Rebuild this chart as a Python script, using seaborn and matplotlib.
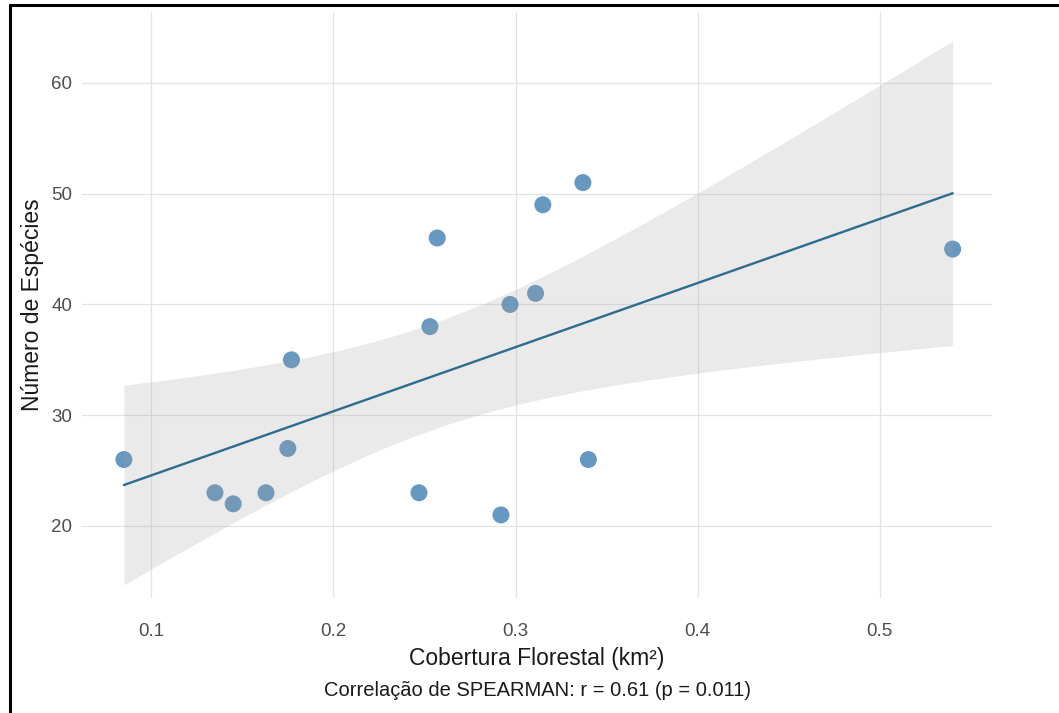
import numpy as np
import pandas as pd
import matplotlib
matplotlib.use("Agg")
import matplotlib.pyplot as plt
from matplotlib.lines import Line2D
import seaborn as sns

# ---- data ----
cobertura = [0.085, 0.135, 0.145, 0.163, 0.175, 0.177, 0.247, 0.253,
             0.257, 0.292, 0.297, 0.311, 0.315, 0.337, 0.340, 0.540]
especies = [26, 23, 22, 23, 27, 35, 23, 38,
            46, 21, 40, 41, 49, 51, 26, 45]
x_ticks = [0.1, 0.2, 0.3, 0.4, 0.5]
y_ticks = [20, 30, 40, 50, 60]
x_label = "Cobertura Florestal (km²)"
y_label = "Número de Espécies"
caption = "Correlação de SPEARMAN: r = 0.61 (p = 0.011)"

df = pd.DataFrame({"cobertura": cobertura, "especies": especies})

sns.set_theme(style="whitegrid")
plt.rcParams["font.family"] = ["Liberation Sans", "DejaVu Sans"]

W, H = 1059, 713
fig = plt.figure(figsize=(W / 100, H / 100), dpi=100)
ax = fig.add_axes([82 / W, 1 - 598 / H, (992 - 82) / W, (598 - 12) / H])

# points first (drawn under the confidence band, like ggplot)
sns.scatterplot(data=df, x="cobertura", y="especies", ax=ax, s=150,
                color="#4682B4", alpha=0.82, edgecolor="none", zorder=2)

# analytic 95% confidence band of the linear fit (as geom_smooth(method="lm"))
xv = df["cobertura"].to_numpy(float)
yv = df["especies"].to_numpy(float)
n = len(xv)
slope, intercept = np.polyfit(xv, yv, 1)
resid = yv - (intercept + slope * xv)
s_err = np.sqrt(np.sum(resid ** 2) / (n - 2))
sxx = np.sum((xv - xv.mean()) ** 2)
t_crit = 2.1448  # t(0.975, df=14)
grid = np.linspace(xv.min(), xv.max(), 200)
fit = intercept + slope * grid
half = t_crit * s_err * np.sqrt(1 / n + (grid - xv.mean()) ** 2 / sxx)
ax.fill_between(grid, fit - half, fit + half, facecolor="#a0a0a0",
                alpha=0.22, linewidth=0, zorder=3)

# regression line
sns.regplot(data=df, x="cobertura", y="especies", ax=ax, scatter=False,
            ci=None, color="#2b6c8f", line_kws={"linewidth": 1.7, "zorder": 4})

ax.set_xlim(0.062, 0.5616)
ax.set_ylim(13.5, 66.4)
ax.set_xticks(x_ticks)
ax.set_yticks(y_ticks)
ax.set_xticklabels([f"{t:g}" for t in x_ticks])
ax.set_yticklabels([str(t) for t in y_ticks])

for s in ax.spines.values():
    s.set_visible(False)
ax.grid(True, color="#e3e3e3", linewidth=0.9)
ax.set_axisbelow(True)
ax.tick_params(axis="y", length=0, labelsize=13.5, labelcolor="#4d4d4d", pad=7)
ax.tick_params(axis="x", length=0, labelsize=13.5, labelcolor="#4d4d4d", pad=18)

ax.set_xlabel(x_label, fontsize=16.5, color="#1a1a1a")
ax.set_ylabel(y_label, fontsize=16.5, color="#1a1a1a")
ax.xaxis.set_label_coords(0.5, (598 - 647) / 586)
ax.yaxis.set_label_coords((44 - 82) / 910, 0.5)

fig.text(537 / W, 1 - 690 / H, caption, ha="center", va="center",
         fontsize=14.5, color="#1a1a1a")

# screenshot frame (top and left edges)
fig.add_artist(Line2D([10 / W, 1.0], [1 - 5 / H, 1 - 5 / H],
                      transform=fig.transFigure, color="black", linewidth=2.2))
fig.add_artist(Line2D([10 / W, 10 / W], [0.0, 1 - 5 / H],
                      transform=fig.transFigure, color="black", linewidth=2.2))

fig.savefig("out.png", dpi=100, facecolor="white")
